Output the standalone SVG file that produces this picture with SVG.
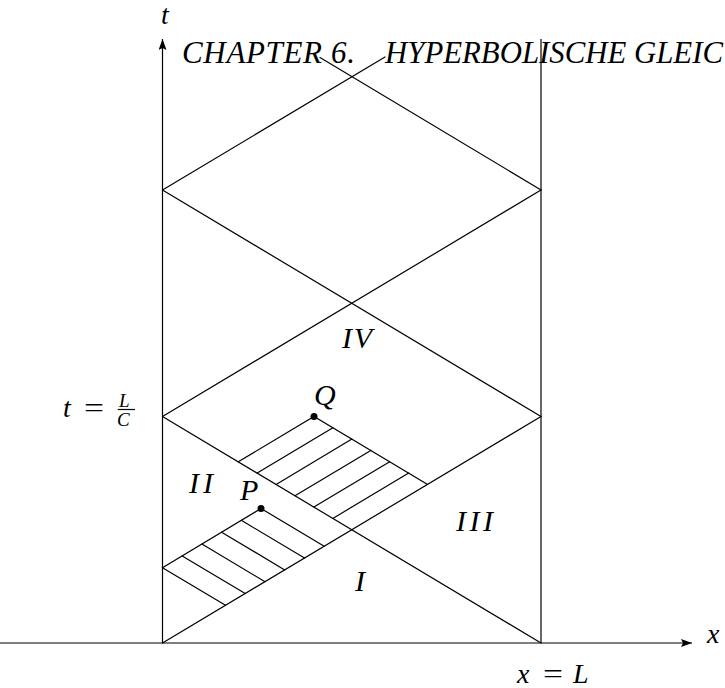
<svg xmlns="http://www.w3.org/2000/svg" width="725" height="688" viewBox="0 0 725 688">
<style>
  .ln { stroke: #000; stroke-width: 1.2; fill: none; stroke-linecap: round; }
  .ax { stroke: #000; stroke-width: 1.2; fill: none; }
  .lbl { font-family: "Liberation Serif", "Times New Roman", serif; font-style: italic; fill: #000; }
  .up { font-style: normal; }
  .dot { fill: #000; }
</style>
<defs>
  <marker id="arr" markerUnits="userSpaceOnUse" markerWidth="12" markerHeight="10" refX="11" refY="4" orient="auto">
    <path d="M0,0 L11,4 L0,8 L2,4 z" fill="#000"/>
  </marker>
</defs>
<rect width="725" height="688" fill="#fff"/>

<g id="axes">
  <line class="ax" x1="0" y1="643" x2="692" y2="643" marker-end="url(#arr)"/>
  <line class="ax" x1="162.5" y1="643" x2="162.5" y2="39" marker-end="url(#arr)"/>
  <line class="ax" x1="541" y1="643" x2="541" y2="39"/>
</g>

<g id="connectors">
  <line class="ln" x1="162.5" y1="643" x2="541" y2="416.5"/>
  <line class="ln" x1="541" y1="643" x2="162.5" y2="416.5"/>
  <line class="ln" x1="162.5" y1="416.5" x2="541" y2="190"/>
  <line class="ln" x1="541" y1="416.5" x2="162.5" y2="190"/>
  <line class="ln" x1="162.5" y1="190" x2="385" y2="57"/>
  <line class="ln" x1="541" y1="190" x2="320" y2="57.5"/>
</g>

<g id="region-lower-hatch">
  <polyline class="ln" points="225.5,605.3 162.5,567.7 261,508.5 324.2,546.3"/>
  <line class="ln" x1="182.2" y1="555.9" x2="245.2" y2="593.5"/>
  <line class="ln" x1="201.9" y1="544.1" x2="265" y2="581.7"/>
  <line class="ln" x1="221.6" y1="532.2" x2="284.7" y2="569.9"/>
  <line class="ln" x1="241.3" y1="520.3" x2="304.5" y2="558.1"/>
</g>

<g id="region-upper-hatch">
  <polyline class="ln" points="238.25,461.8 314,416.5 427.6,484.4"/>
  <line class="ln" x1="257.2" y1="473.1" x2="332.9" y2="427.8"/>
  <line class="ln" x1="276.1" y1="484.45" x2="351.9" y2="439.1"/>
  <line class="ln" x1="295" y1="495.8" x2="370.8" y2="450.45"/>
  <line class="ln" x1="313.9" y1="507.1" x2="389.7" y2="461.8"/>
  <line class="ln" x1="332.8" y1="518.4" x2="408.7" y2="473.1"/>
</g>

<g id="point-P">
  <circle class="dot" cx="261" cy="508.5" r="3.5"/>
  <text class="lbl" x="240" y="500" font-size="30">P</text>
</g>
<g id="point-Q">
  <circle class="dot" cx="314" cy="416.5" r="3.5"/>
  <text class="lbl" x="314" y="405" font-size="30">Q</text>
</g>

<g id="region-labels">
  <text class="lbl" x="355" y="591" font-size="30">I</text>
  <text class="lbl" x="189" y="493" font-size="30" textLength="24" lengthAdjust="spacing">II</text>
  <text class="lbl" x="456" y="531" font-size="30" textLength="37" lengthAdjust="spacing">III</text>
  <text class="lbl" x="342" y="348" font-size="30" textLength="30" lengthAdjust="spacing">IV</text>
</g>

<g id="axis-labels">
  <text class="lbl" x="161" y="24" font-size="28">t</text>
  <text class="lbl" x="707" y="643" font-size="28">x</text>
  <text class="lbl" x="517" y="683" font-size="28">x</text>
  <text class="lbl up" x="543" y="683" font-size="28" textLength="20" lengthAdjust="spacingAndGlyphs">=</text>
  <text class="lbl" x="573" y="683" font-size="28">L</text>
  <text class="lbl" x="63" y="417" font-size="28">t</text>
  <text class="lbl up" x="84" y="417" font-size="28" textLength="20" lengthAdjust="spacingAndGlyphs">=</text>
  <text class="lbl" x="119" y="406.5" font-size="19">L</text>
  <line class="ax" x1="117.7" y1="409.5" x2="135" y2="409.5" stroke-width="0.9"/>
  <text class="lbl" x="117" y="426" font-size="19">C</text>
</g>

<g id="header">
  <text class="lbl" x="182" y="63" font-size="31" textLength="173" lengthAdjust="spacing">CHAPTER 6.</text>
  <text class="lbl" x="385" y="63" font-size="31" textLength="338" lengthAdjust="spacingAndGlyphs">HYPERBOLISCHE GLEIC</text>
</g>
</svg>
